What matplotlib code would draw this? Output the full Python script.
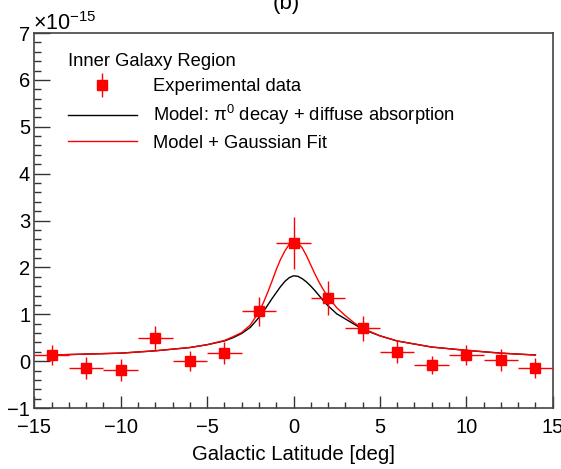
import matplotlib
matplotlib.use("Agg")
import matplotlib.pyplot as plt
from matplotlib.lines import Line2D
from matplotlib.legend_handler import HandlerTuple
from matplotlib.ticker import MultipleLocator

plt.rcParams['font.family'] = ['Liberation Sans', 'DejaVu Sans']
plt.rcParams['mathtext.fontset'] = 'custom'
plt.rcParams['mathtext.rm'] = 'Liberation Sans'
plt.rcParams['mathtext.it'] = 'Liberation Sans'

# Data (units of 1e-15)
lat = [-14, -12, -10, -8, -6, -4, -2, 0, 2, 4, 6, 8, 10, 12, 14]
flux = [0.13, -0.15, -0.19, 0.49, 0.00, 0.17, 1.06, 2.52, 1.35, 0.70, 0.20, -0.08, 0.13, 0.03, -0.15]
flux_err = [0.21, 0.24, 0.24, 0.26, 0.22, 0.23, 0.31, 0.56, 0.36, 0.26, 0.24, 0.20, 0.22, 0.23, 0.22]
lat_err = [1] * len(lat)

# Model curves
model_x = [-14, -12, -10, -8, -6, -5, -4, -3.5, -3, -2.5, -2, -1.75, -1.5, -1.25, -1, -0.75, -0.5, -0.25, 0,
           0.25, 0.5, 0.75, 1, 1.25, 1.5, 1.75, 2, 2.5, 3, 3.5, 4, 5, 6, 8, 10, 12, 14]
model_y = [0.13, 0.15, 0.17, 0.22, 0.29, 0.35, 0.43, 0.50, 0.59, 0.72, 0.93, 1.05, 1.19, 1.33, 1.46, 1.59, 1.70, 1.78, 1.82,
           1.81, 1.76, 1.69, 1.60, 1.50, 1.39, 1.28, 1.18, 1.01, 0.90, 0.79, 0.68, 0.54, 0.43, 0.30, 0.23, 0.17, 0.13]
fit_y = [0.13, 0.15, 0.17, 0.22, 0.29, 0.35, 0.44, 0.52, 0.61, 0.77, 1.05, 1.24, 1.46, 1.70, 1.95, 2.17, 2.35, 2.49, 2.55,
         2.52, 2.42, 2.25, 2.05, 1.85, 1.67, 1.51, 1.37, 1.14, 0.97, 0.82, 0.70, 0.54, 0.43, 0.30, 0.23, 0.17, 0.13]

fig = plt.figure(figsize=(5.61, 4.69), dpi=100)
ax = fig.add_axes([34.3/561, 1-408/469, (552.7-34.3)/561, (408-33)/469])

ax.plot(model_x, model_y, color='black', lw=1.0, zorder=2)
ax.plot(model_x, fit_y, color='red', lw=1.0, zorder=3)
ax.errorbar(lat, flux, yerr=flux_err, xerr=lat_err, fmt='s', color='red',
            ms=7, elinewidth=1.0, capsize=0, zorder=4)

ax.set_xlim(-15, 15)
ax.set_ylim(-1, 7)
ax.xaxis.set_major_locator(MultipleLocator(5))
ax.xaxis.set_minor_locator(MultipleLocator(1))
ax.yaxis.set_major_locator(MultipleLocator(1))
ax.yaxis.set_minor_locator(MultipleLocator(0.2))
ax.tick_params(axis='both', which='both', direction='in', top=False, right=False,
               labelsize=14.5, width=1.0, color='#333333')
ax.tick_params(axis='x', which='major', length=8.4, pad=7)
ax.tick_params(axis='x', which='minor', length=4.3)
ax.tick_params(axis='y', which='major', length=11.3, pad=3)
ax.tick_params(axis='y', which='minor', length=5.3)
for s in ax.spines.values():
    s.set_linewidth(1.2)
    s.set_color('#444444')

ax.set_xlabel('Galactic Latitude [deg]', fontsize=14.7, labelpad=6)

fig.text(33/561, 1-30/469, '×10$^{-15}$', fontsize=15.5, ha='left', va='baseline')
fig.text(286/561, 1-9/469, '(b)', fontsize=16, ha='center', va='baseline')

h_data = (Line2D([], [], marker='s', color='red', ls='none', ms=7),
          Line2D([], [], marker='|', color='red', ls='none', ms=17, mew=1.0))
h_model = Line2D([], [], color='black', lw=1.0)
h_fit = Line2D([], [], color='red', lw=1.0)
leg = ax.legend([h_data, h_model, h_fit],
                ['Experimental data', 'Model: π$^{0}$ decay + diffuse absorption', 'Model + Gaussian Fit'],
                handler_map={tuple: HandlerTuple(ndivide=1)},
                title='Inner Galaxy Region', title_fontsize=13.2, fontsize=13.2,
                frameon=False, loc='upper left', bbox_to_anchor=(0.05, 0.965),
                handlelength=3.8, handletextpad=0.85, labelspacing=0.42, borderaxespad=0)
leg._legend_box.align = 'left'

fig.savefig('out.png', dpi=100)
